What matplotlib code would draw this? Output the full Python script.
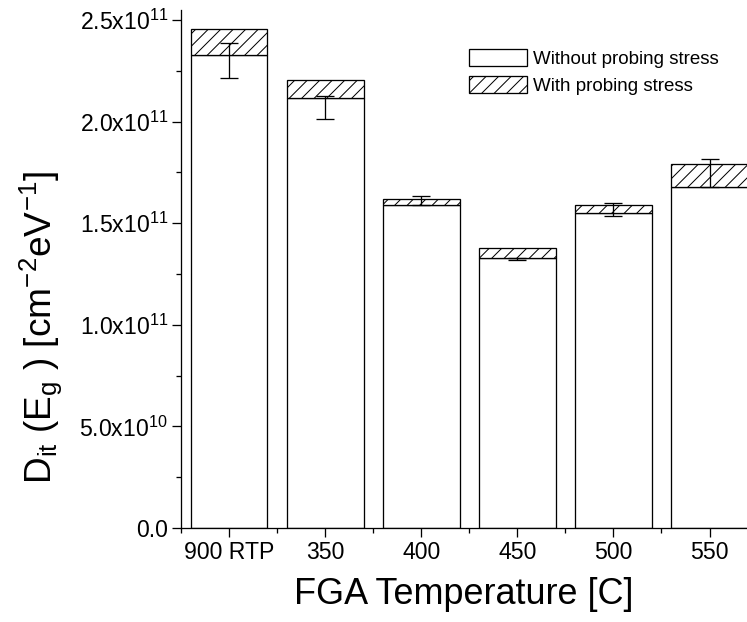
import numpy as np
from matplotlib import pyplot as plt
from matplotlib.patches import Patch
from matplotlib.ticker import FixedLocator, MultipleLocator

categories = ['900 RTP', '350', '400', '450', '500', '550']
without_stress = [2.33e11, 2.115e11, 1.59e11, 1.33e11, 1.55e11, 1.68e11]
with_stress = [2.455e11, 2.205e11, 1.62e11, 1.38e11, 1.59e11, 1.79e11]
err_center = [2.30e11, 2.07e11, 1.612e11, 1.325e11, 1.567e11, 1.747e11]
err_half = [0.087e11, 0.055e11, 0.02e11, 0.006e11, 0.031e11, 0.07e11]
y_ticks = [0.0, 5.0e10, 1.0e11, 1.5e11, 2.0e11, 2.5e11]
y_tick_labels = ['0.0', r'5.0x10$^{10}$', r'1.0x10$^{11}$', r'1.5x10$^{11}$',
                 r'2.0x10$^{11}$', r'2.5x10$^{11}$']

DPI = 75


def pt(px):
    return px * 72.0 / DPI


plt.rcParams['font.family'] = ['Liberation Sans', 'DejaVu Sans']
plt.rcParams['mathtext.fontset'] = 'custom'
plt.rcParams['mathtext.rm'] = 'Liberation Sans'
plt.rcParams['mathtext.it'] = 'Liberation Sans'
plt.rcParams['mathtext.default'] = 'regular'
plt.rcParams['hatch.linewidth'] = pt(1.0)
plt.rcParams['hatch.color'] = 'black'

fig = plt.figure(figsize=(747 / DPI, 622 / DPI), dpi=DPI)
y_top = 2.55e11
px_per = 203.2 / 1e11
ax_h = y_top * px_per
ax = fig.add_axes([181 / 747, (622 - 528) / 622, (747 - 181) / 747, ax_h / 622])

x = np.arange(len(categories))
lw = pt(1.3)
ax.bar(x, without_stress, width=0.8, color='white', edgecolor='black', linewidth=lw, zorder=2)
top = np.array(with_stress) - np.array(without_stress)
ax.bar(x, top, bottom=without_stress, width=0.8, color='white', edgecolor='black',
       hatch='//', linewidth=lw, zorder=2)
ax.errorbar(x, err_center, yerr=err_half, fmt='none', ecolor='black', elinewidth=lw,
            capsize=pt(9), capthick=lw, zorder=3)

ax.set_xlim(-0.5, 5.39)
ax.set_ylim(0, y_top)
ax.set_xticks(x)
ax.set_xticklabels(categories)
ax.xaxis.set_minor_locator(FixedLocator(np.arange(-0.5, 5.5, 1.0)))
ax.set_yticks(y_ticks)
ax.set_yticklabels(y_tick_labels)
ax.yaxis.set_minor_locator(MultipleLocator(2.5e10))

for s in ['top', 'right']:
    ax.spines[s].set_visible(False)
for s in ['left', 'bottom']:
    ax.spines[s].set_linewidth(lw)

ax.tick_params(which='major', direction='out', length=pt(9), width=lw,
               labelsize=pt(23), pad=pt(4))
ax.tick_params(which='minor', direction='out', length=pt(5), width=lw)

ax.set_xlabel('FGA Temperature [C]', fontsize=pt(36), labelpad=pt(13))
ax.set_ylabel(r'D$_{it}$ (E$_g$ ) [cm$^{-2}$eV$^{-1}$]', fontsize=pt(37))
ax.yaxis.set_label_coords((64 - 181) / 566, (528 - 327) / ax_h)

handles = [Patch(facecolor='white', edgecolor='black', linewidth=lw, label='Without probing stress'),
           Patch(facecolor='white', edgecolor='black', linewidth=lw, hatch='//',
                 label='With probing stress')]
fig.legend(handles=handles, loc='upper left', bbox_to_anchor=(469 / 747, 1 - 49 / 622),
           frameon=False, fontsize=pt(18.8), handlelength=3.1, handleheight=1.0,
           handletextpad=0.3, labelspacing=0.45, borderpad=0, borderaxespad=0)

fig.savefig('out.png', dpi=DPI)
